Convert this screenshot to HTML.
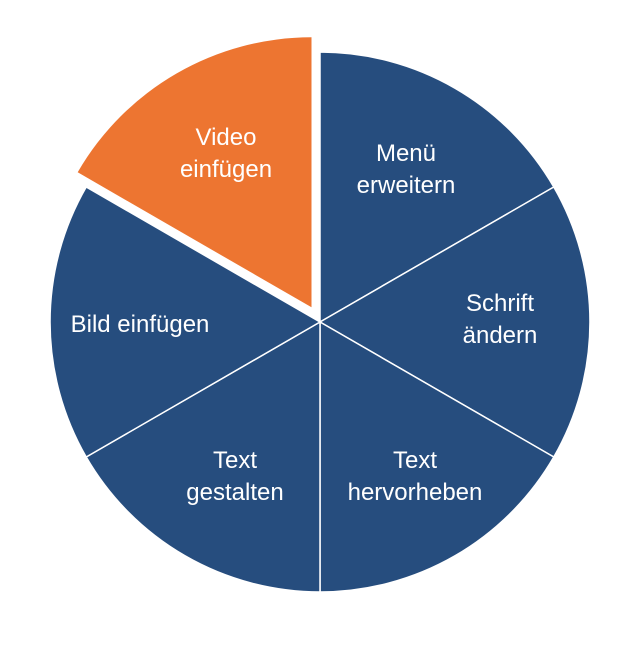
<!DOCTYPE html>
<html><head><meta charset="utf-8"><style>body{margin:0;background:#fff}</style></head><body>
<svg width="640" height="640" viewBox="0 0 640 640" xmlns="http://www.w3.org/2000/svg">
<g fill="#264d7e" stroke="#fff" stroke-width="1.5">
<path d="M320,322 L320,52 A270,270 0 0 1 553.8,187 Z"/>
<path d="M320,322 L553.8,187 A270,270 0 0 1 553.8,457 Z"/>
<path d="M320,322 L553.8,457 A270,270 0 0 1 320,592 Z"/>
<path d="M320,322 L320,592 A270,270 0 0 1 86.2,457 Z"/>
<path d="M320,322 L86.2,457 A270,270 0 0 1 86.2,187 Z"/>
</g>
<path d="M311.5,307.3 L311.5,37.3 A270,270 0 0 0 77.7,172.3 Z" fill="#ed7531"/>
<g font-family="Liberation Sans, sans-serif" font-size="24" fill="#fff" text-anchor="middle">
<text x="226" y="145">Video</text><text x="226" y="177">einfügen</text>
<text x="406" y="161">Menü</text><text x="406" y="193">erweitern</text>
<text x="500" y="311">Schrift</text><text x="500" y="343">ändern</text>
<text x="415" y="468">Text</text><text x="415" y="500">hervorheben</text>
<text x="235" y="468">Text</text><text x="235" y="500">gestalten</text>
<text x="140" y="332">Bild einfügen</text>
</g>
</svg>
</body></html>
